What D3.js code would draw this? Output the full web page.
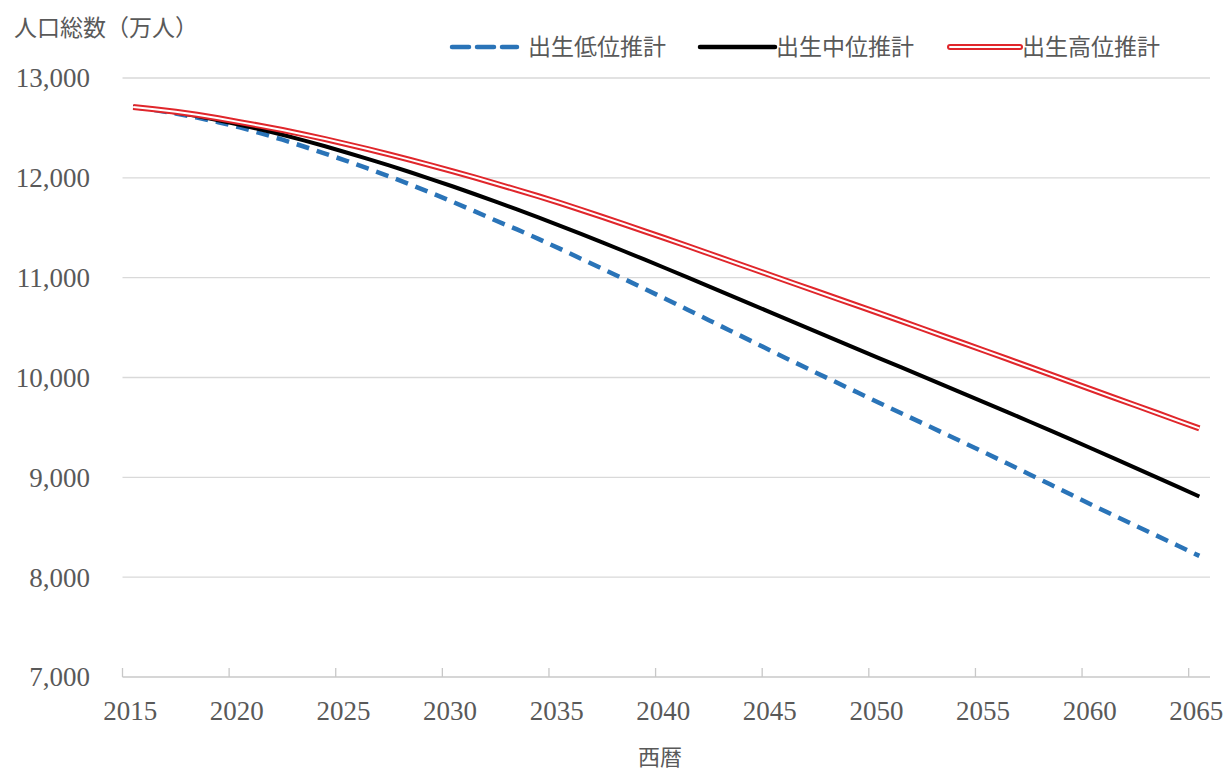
<!DOCTYPE html>
<html>
<head>
<meta charset="utf-8">
<script src="https://cdn.jsdelivr.net/npm/d3@7"></script>
<style>
body { margin: 0; background: #fff; }
</style>
</head>
<body>
<svg id="chart"></svg>
<script>
var years = d3.range(2015, 2066)
var lowVals = [12709,12680,12645,12604,12557,12505,12446,12382,12314,12243,
 12170,12094,12015,11933,11847,11758,11666,11572,11483,11389,
 11291,11190,11090,10989,10887,10784,10679,10574,10469,10364,
 10258,10154,10051,9949,9847,9745,9644,9544,9443,9342,
 9241,9138,9034,8930,8825,8719,8618,8517,8416,8315,8213]
var midVals = [12709,12684,12653,12618,12577,12532,12484,12431,12375,12316,
 12254,12190,12124,12056,11985,11913,11838,11762,11683,11603,
 11522,11438,11354,11267,11180,11092,11003,10913,10823,10733,
 10642,10552,10462,10372,10282,10192,10103,10014,9924,9834,
 9744,9653,9562,9470,9378,9284,9190,9095,8999,8904,8808]
var highVals = [12709,12688,12662,12632,12597,12558,12520,12479,12435,12388,
 12338,12288,12235,12180,12123,12065,12005,11943,11880,11816,
 11750,11680,11609,11537,11464,11391,11317,11242,11167,11092,
 11017,10942,10867,10792,10718,10643,10567,10491,10415,10339,
 10263,10186,10109,10031,9954,9876,9799,9722,9645,9567,9490]
var seriesNames = ["出生低位推計", "出生中位推計", "出生高位推計"]
var yTicks = [7000, 8000, 9000, 10000, 11000, 12000, 13000]
var xTickYears = [2015, 2020, 2025, 2030, 2035, 2040, 2045, 2050, 2055, 2060, 2065]

var screen = {width: 1228, height: 774}
var svg = d3.select("#chart")
  .attr("width", screen.width)
  .attr("height", screen.height)

var xScale = d3.scaleBand()
  .domain(years)
  .range([122.5, 1210])
  .padding(0)
var xc = function(yr){ return xScale(yr) + xScale.bandwidth()/2 }

var yScale = d3.scaleLinear()
  .domain([7000, 13000])
  .range([677, 78])

var serif = "'Liberation Serif', 'Times New Roman', serif"
var jp = "'Noto Sans CJK JP', 'Noto Sans', sans-serif"

// gridlines
svg.append("g").selectAll("line")
  .data(yTicks.filter(function(d){ return d > 7000 }))
  .enter().append("line")
  .attr("x1", 122.5).attr("x2", 1210)
  .attr("y1", function(d){ return yScale(d) })
  .attr("y2", function(d){ return yScale(d) })
  .attr("stroke", "#d9d9d9").attr("stroke-width", 1.3)

// y labels
svg.append("g").selectAll("text")
  .data(yTicks)
  .enter().append("text")
  .attr("x", 90)
  .attr("y", function(d){ return yScale(d) })
  .attr("dy", "0.35em")
  .attr("text-anchor", "end")
  .style("font-family", serif)
  .style("font-size", "27px")
  .style("fill", "#595959")
  .text(function(d){ return d3.format(",")(d) })

// x axis line + ticks
svg.append("line")
  .attr("x1", 122.5).attr("x2", 1210)
  .attr("y1", yScale(7000)).attr("y2", yScale(7000))
  .attr("stroke", "#c8c8c8").attr("stroke-width", 1.3)

svg.append("g").selectAll("line")
  .data(xTickYears)
  .enter().append("line")
  .attr("x1", function(d){ return xScale(d) })
  .attr("x2", function(d){ return xScale(d) })
  .attr("y1", yScale(7000)).attr("y2", yScale(7000) - 9)
  .attr("stroke", "#c8c8c8").attr("stroke-width", 1.3)

svg.append("g").selectAll("text")
  .data(xTickYears)
  .enter().append("text")
  .attr("x", function(d){ return xc(d) - 3 })
  .attr("y", 711)
  .attr("dy", "0.35em")
  .attr("text-anchor", "middle")
  .style("font-family", serif)
  .style("font-size", "27px")
  .style("fill", "#595959")
  .text(function(d){ return d })

// lines
var line = d3.line()
  .x(function(d,i){ return xc(years[i]) })
  .y(function(d){ return yScale(d) })

svg.append("path")
  .attr("d", line(lowVals))
  .attr("fill", "none")
  .attr("stroke", "#2a74b8")
  .attr("stroke-width", 4.5)
  .attr("stroke-dasharray", "13,8")

svg.append("path")
  .attr("d", line(midVals))
  .attr("fill", "none")
  .attr("stroke", "#000")
  .attr("stroke-width", 4)

svg.append("path")
  .attr("d", line(highVals))
  .attr("fill", "none")
  .attr("stroke", "#e0262b")
  .attr("stroke-width", 6)
svg.append("path")
  .attr("d", line(highVals))
  .attr("fill", "none")
  .attr("stroke", "#fff")
  .attr("stroke-width", 2)

// titles
svg.append("text")
  .attr("x", 14).attr("y", 28)
  .attr("dy", "0.35em")
  .style("font-family", jp)
  .style("font-size", "23px")
  .style("fill", "#595959")
  .text("人口総数（万人）")

svg.append("text")
  .attr("x", 660).attr("y", 757)
  .attr("dy", "0.35em")
  .attr("text-anchor", "middle")
  .style("font-family", jp)
  .style("font-size", "22px")
  .style("fill", "#595959")
  .text("西暦")

// legend
var legY = 47
var leg = [
  {name: seriesNames[0], x1: 452, x2: 517, tx: 528},
  {name: seriesNames[1], x1: 700, x2: 775, tx: 776},
  {name: seriesNames[2], x1: 950, x2: 1020, tx: 1022}
]
svg.append("line").attr("x1", leg[0].x1).attr("x2", leg[0].x2)
  .attr("y1", legY).attr("y2", legY)
  .attr("stroke", "#2a74b8").attr("stroke-width", 4.5)
  .attr("stroke-dasharray", "17,8").attr("stroke-linecap", "round")
svg.append("line").attr("x1", leg[1].x1).attr("x2", leg[1].x2)
  .attr("y1", legY).attr("y2", legY)
  .attr("stroke", "#000").attr("stroke-width", 4.5).attr("stroke-linecap", "round")
svg.append("line").attr("x1", leg[2].x1).attr("x2", leg[2].x2)
  .attr("y1", legY).attr("y2", legY)
  .attr("stroke", "#e0262b").attr("stroke-width", 6).attr("stroke-linecap", "round")
svg.append("line").attr("x1", leg[2].x1).attr("x2", leg[2].x2)
  .attr("y1", legY).attr("y2", legY)
  .attr("stroke", "#fff").attr("stroke-width", 2).attr("stroke-linecap", "round")

svg.append("g").selectAll("text")
  .data(leg)
  .enter().append("text")
  .attr("x", function(d){ return d.tx })
  .attr("y", legY)
  .attr("dy", "0.35em")
  .style("font-family", jp)
  .style("font-size", "23px")
  .style("fill", "#595959")
  .text(function(d){ return d.name })
</script>
</body>
</html>
